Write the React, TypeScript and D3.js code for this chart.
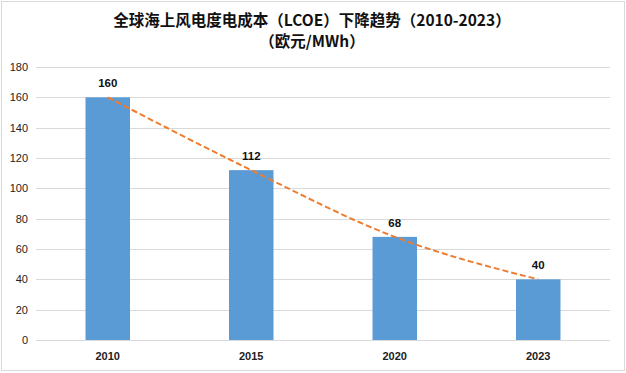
import { useEffect, useRef } from "react";
import * as d3 from "d3";

// 全球海上风电度电成本（LCOE）下降趋势
const years = ["2010", "2015", "2020", "2023"];
const lcoe = [160, 112, 68, 40];
const yTicks = [0, 20, 40, 60, 80, 100, 120, 140, 160, 180];
const titleLines = ["全球海上风电度电成本（LCOE）下降趋势（2010-2023）", "（欧元/MWh）"];

const App = () => {
  const svgRef = useRef<SVGSVGElement>(null);

  useEffect(() => {
    const width = 626;
    const height = 373;
    const margin = { top: 67, left: 36, right: 16, bottom: 33 };

    const svg = d3.select(svgRef.current);
    svg.selectAll("*").remove();
    svg.attr("width", width).attr("height", height);

    // 背景和边框
    svg
      .append("rect")
      .attr("x", 1.5)
      .attr("y", 1.5)
      .attr("width", width - 3)
      .attr("height", height - 4)
      .attr("fill", "#fff")
      .attr("stroke", "#d9d9d9");

    const xScale = d3
      .scaleBand()
      .domain(years)
      .range([margin.left, width - margin.right])
      .paddingInner(0.69)
      .paddingOuter(0.345);

    const yScale = d3
      .scaleLinear()
      .domain([0, 180])
      .range([height - margin.bottom, margin.top]);

    // 网格线
    svg
      .append("g")
      .selectAll("line")
      .data(yTicks)
      .enter()
      .append("line")
      .attr("x1", margin.left)
      .attr("x2", width - margin.right)
      .attr("y1", (d) => Math.round(yScale(d)) + 0.5)
      .attr("y2", (d) => Math.round(yScale(d)) + 0.5)
      .attr("stroke", "#d9d9d9")
      .attr("stroke-width", 1);

    // y 轴刻度
    svg
      .append("g")
      .selectAll("text")
      .data(yTicks)
      .enter()
      .append("text")
      .attr("x", 28)
      .attr("y", (d) => yScale(d) + 4)
      .attr("text-anchor", "end")
      .attr("font-family", "'Liberation Sans', Arial, sans-serif")
      .attr("font-size", 11)
      .attr("fill", "#222")
      .text((d) => d);

    // 柱子
    svg
      .append("g")
      .selectAll("rect")
      .data(lcoe)
      .enter()
      .append("rect")
      .attr("x", (_, i) => xScale(years[i])!)
      .attr("y", (d) => yScale(d))
      .attr("width", xScale.bandwidth())
      .attr("height", (d) => yScale(0) - yScale(d))
      .attr("fill", "#5b9bd5");

    // 趋势线
    const cx = (i: number) => xScale(years[i])! + xScale.bandwidth() / 2;
    const trend = d3
      .line<number>()
      .x((_, i) => cx(i))
      .y((d) => yScale(d))
      .curve(d3.curveMonotoneX);

    svg
      .append("path")
      .attr("d", trend(lcoe))
      .attr("fill", "none")
      .attr("stroke", "#ed7d31")
      .attr("stroke-width", 2)
      .attr("stroke-dasharray", "6,3");

    // 数据标签
    svg
      .append("g")
      .selectAll("text")
      .data(lcoe)
      .enter()
      .append("text")
      .attr("x", (_, i) => cx(i))
      .attr("y", (d) => yScale(d) - 10)
      .attr("text-anchor", "middle")
      .attr("font-family", "'Liberation Sans', Arial, sans-serif")
      .attr("font-size", 11.5)
      .attr("font-weight", "bold")
      .attr("fill", "#111")
      .text((d) => d);

    // x 轴标签
    svg
      .append("g")
      .selectAll("text")
      .data(years)
      .enter()
      .append("text")
      .attr("x", (d) => xScale(d)! + xScale.bandwidth() / 2)
      .attr("y", 360)
      .attr("text-anchor", "middle")
      .attr("font-family", "'Liberation Sans', Arial, sans-serif")
      .attr("font-size", 11)
      .attr("font-weight", "bold")
      .attr("fill", "#222")
      .text((d) => d);

    // 标题
    svg
      .append("g")
      .selectAll("text")
      .data(titleLines)
      .enter()
      .append("text")
      .attr("x", 312)
      .attr("y", (_, i) => 26 + i * 21)
      .attr("text-anchor", "middle")
      .attr("font-family", "'Noto Sans CJK SC', sans-serif")
      .attr("font-size", 15.5)
      .attr("font-weight", "bold")
      .attr("fill", "#111")
      .text((d) => d);
  }, []);

  return <svg ref={svgRef} style={{ position: "absolute", left: 0, top: 0 }} />;
};

export default App;
